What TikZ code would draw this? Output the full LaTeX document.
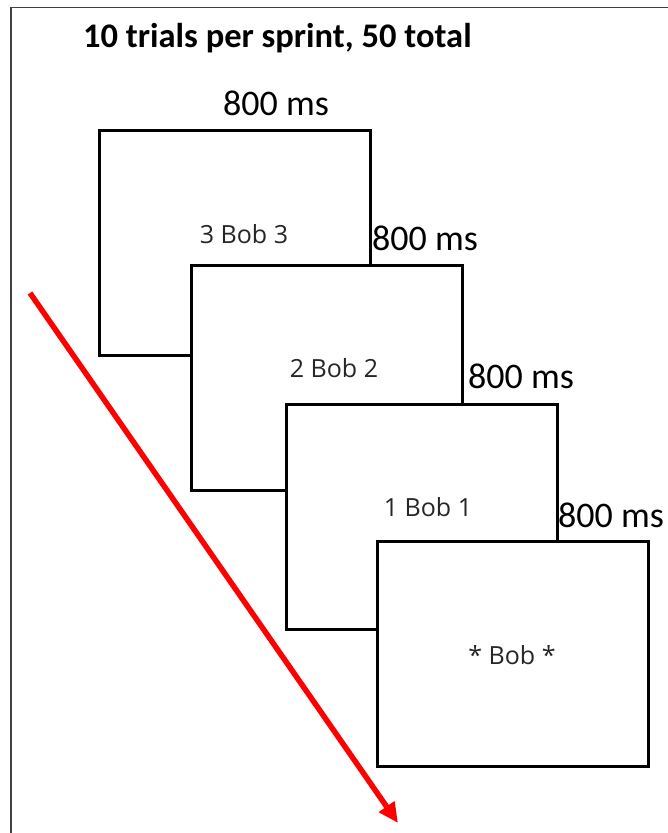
\documentclass[tikz,border=0pt]{standalone}
\usepackage{fontspec}
\setmainfont{Carlito}
\newfontfamily\wordfont{Open Sans}
\usetikzlibrary{arrows.meta}
\usepackage{xcolor}

\tikzset{
  screen/.style={draw=black, line width=3pt, fill=white, anchor=north west,
    minimum width=271pt, minimum height=225pt, inner sep=0, outer sep=0},
  word/.style={anchor=base, inner sep=0, text=black!85,
    font=\wordfont\fontsize{25}{29}\selectfont},
  timing/.style={anchor=base west, inner sep=0,
    font=\fontsize{36}{42}\selectfont},
}

\begin{document}
\begin{tikzpicture}[x=1pt, y=-1pt]
\useasboundingbox (0,0) rectangle (668,833);
\draw[black!75, line width=1.5pt] (11,833) -- (11,7.5) -- (668,7.5);

\node[anchor=base west, inner sep=0, font=\bfseries\fontsize{34.5}{40}\selectfont] (title) at (83,47) {10 trials per sprint, 50 total};

% the four screens, each one on top of the last
\node[screen] (s1) at (99,130) {};
\node[screen] (s2) at (191,265) {};
\node[screen] (s3) at (286,404) {};
\node[screen] (s4) at (377,541) {};

\node[word] (w1) at (244,243) {3 Bob 3};
\node[word] (w2) at (334,377) {2 Bob 2};
\node[word] (w3) at (428,516) {1 Bob 1};
\node[word] (w4) at (512,664) {* Bob *};

\node[timing] (d1) at (223,115) {800 ms};
\node[timing] (d2) at (372,250) {800 ms};
\node[timing] (d3) at (468,388) {800 ms};
\node[timing] (d4) at (558,527) {800 ms};

% time runs down the page
\coordinate (t0) at (30,293);
\coordinate (t1) at (398,823);
\draw[red, line width=5.5pt, -{Triangle[length=20pt, width=18pt]}] (t0) -- (t1);
\end{tikzpicture}
\end{document}
